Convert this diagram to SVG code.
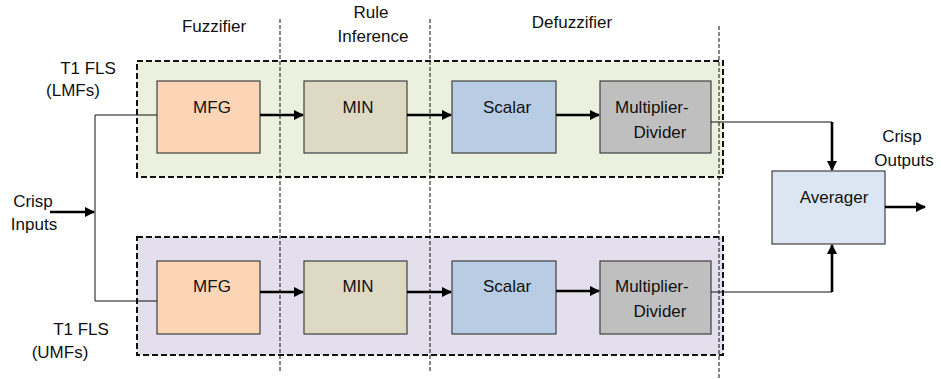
<svg xmlns="http://www.w3.org/2000/svg" width="941" height="379" viewBox="0 0 941 379">
<defs>
<style>
text{font-family:"Liberation Sans",Arial,sans-serif;font-size:17px;fill:#111}
.c{text-anchor:middle}
.grp{stroke:#111;stroke-width:2;stroke-dasharray:6,3}
.sep{fill:none;stroke:#111;stroke-width:1;stroke-dasharray:4,2}
.box{stroke:#404040;stroke-width:1.2}
.thin{fill:none;stroke:#111;stroke-width:1}
.thick{fill:none;stroke:#000;stroke-width:2.6}
</style>
<marker id="ah" viewBox="0 0 10 10" refX="9" refY="5" markerWidth="4" markerHeight="4" orient="auto" markerUnits="strokeWidth">
<path d="M0,0 L10,5 L0,10 z" fill="#000"/>
</marker>
</defs>
<rect width="941" height="379" fill="#fff"/>

<g id="lmf-group">
<rect class="grp" x="137" y="61" width="586" height="116" fill="#EBF1DE"/>
</g>
<g id="umf-group">
<rect class="grp" x="137" y="237" width="586" height="118" fill="#E4DFEC"/>
</g>

<g id="separators">
<line class="sep" x1="280" y1="19" x2="280" y2="373"/>
<line class="sep" x1="430" y1="19" x2="430" y2="373"/>
<line class="sep" x1="719" y1="26" x2="719" y2="379"/>
</g>

<g id="stage-labels">
<text class="c" x="214" y="32">Fuzzifier</text>
<text class="c" x="371" y="18">Rule</text>
<text class="c" x="373" y="42">Inference</text>
<text class="c" x="572" y="28">Defuzzifier</text>
</g>

<g id="label-lmf">
<text class="c" x="88" y="74">T1 FLS</text>
<text class="c" x="73" y="96">(LMFs)</text>
</g>
<g id="label-umf">
<text class="c" x="81" y="335">T1 FLS</text>
<text class="c" x="60" y="358">(UMFs)</text>
</g>
<g id="label-inputs">
<text class="c" x="33" y="207">Crisp</text>
<text class="c" x="34" y="230">Inputs</text>
</g>
<g id="label-outputs">
<text class="c" x="902" y="142">Crisp</text>
<text class="c" x="904" y="166">Outputs</text>
</g>

<g id="mfg-top">
<rect class="box" x="157" y="81" width="103" height="72" fill="#FBD5B5"/>
<text class="c" x="212" y="113">MFG</text>
</g>
<g id="min-top">
<rect class="box" x="304" y="81" width="103" height="72" fill="#DDD9C3"/>
<text class="c" x="358" y="113">MIN</text>
</g>
<g id="scalar-top">
<rect class="box" x="452" y="81" width="104" height="72" fill="#B8CCE4"/>
<text class="c" x="507" y="113">Scalar</text>
</g>
<g id="md-top">
<rect class="box" x="600" y="81" width="111" height="72" fill="#BFBFBF"/>
<text x="615" y="113">Multiplier-</text>
<text class="c" x="660" y="138">Divider</text>
</g>

<g id="mfg-bot">
<rect class="box" x="157" y="261" width="103" height="73" fill="#FBD5B5"/>
<text class="c" x="212" y="292">MFG</text>
</g>
<g id="min-bot">
<rect class="box" x="304" y="261" width="103" height="73" fill="#DDD9C3"/>
<text class="c" x="358" y="292">MIN</text>
</g>
<g id="scalar-bot">
<rect class="box" x="452" y="261" width="104" height="73" fill="#B8CCE4"/>
<text class="c" x="507" y="292">Scalar</text>
</g>
<g id="md-bot">
<rect class="box" x="600" y="261" width="111" height="73" fill="#BFBFBF"/>
<text x="615" y="292">Multiplier-</text>
<text class="c" x="660" y="317">Divider</text>
</g>

<g id="averager">
<rect class="box" x="772" y="171" width="113" height="73" fill="#DCE6F2"/>
<text class="c" x="834" y="203">Averager</text>
</g>

<g id="connectors">
<polyline class="thin" points="157,115 95,115 95,301 157,301"/>
<line class="thick" x1="50" y1="212" x2="94" y2="212" marker-end="url(#ah)"/>
<line class="thick" x1="260" y1="115" x2="303" y2="115" marker-end="url(#ah)"/>
<line class="thick" x1="407" y1="115" x2="451" y2="115" marker-end="url(#ah)"/>
<line class="thick" x1="556" y1="115" x2="599" y2="115" marker-end="url(#ah)"/>
<line class="thick" x1="260" y1="292" x2="303" y2="292" marker-end="url(#ah)"/>
<line class="thick" x1="407" y1="292" x2="451" y2="292" marker-end="url(#ah)"/>
<line class="thick" x1="556" y1="291" x2="599" y2="291" marker-end="url(#ah)"/>
<polyline class="thin" points="711,122 832,122 832,140"/>
<line class="thick" x1="832" y1="122" x2="832" y2="170" marker-end="url(#ah)"/>
<polyline class="thin" points="711,292 832,292"/>
<line class="thick" x1="832" y1="292" x2="832" y2="245" marker-end="url(#ah)"/>
<line class="thick" x1="885" y1="207" x2="925" y2="207" marker-end="url(#ah)"/>
</g>
</svg>
